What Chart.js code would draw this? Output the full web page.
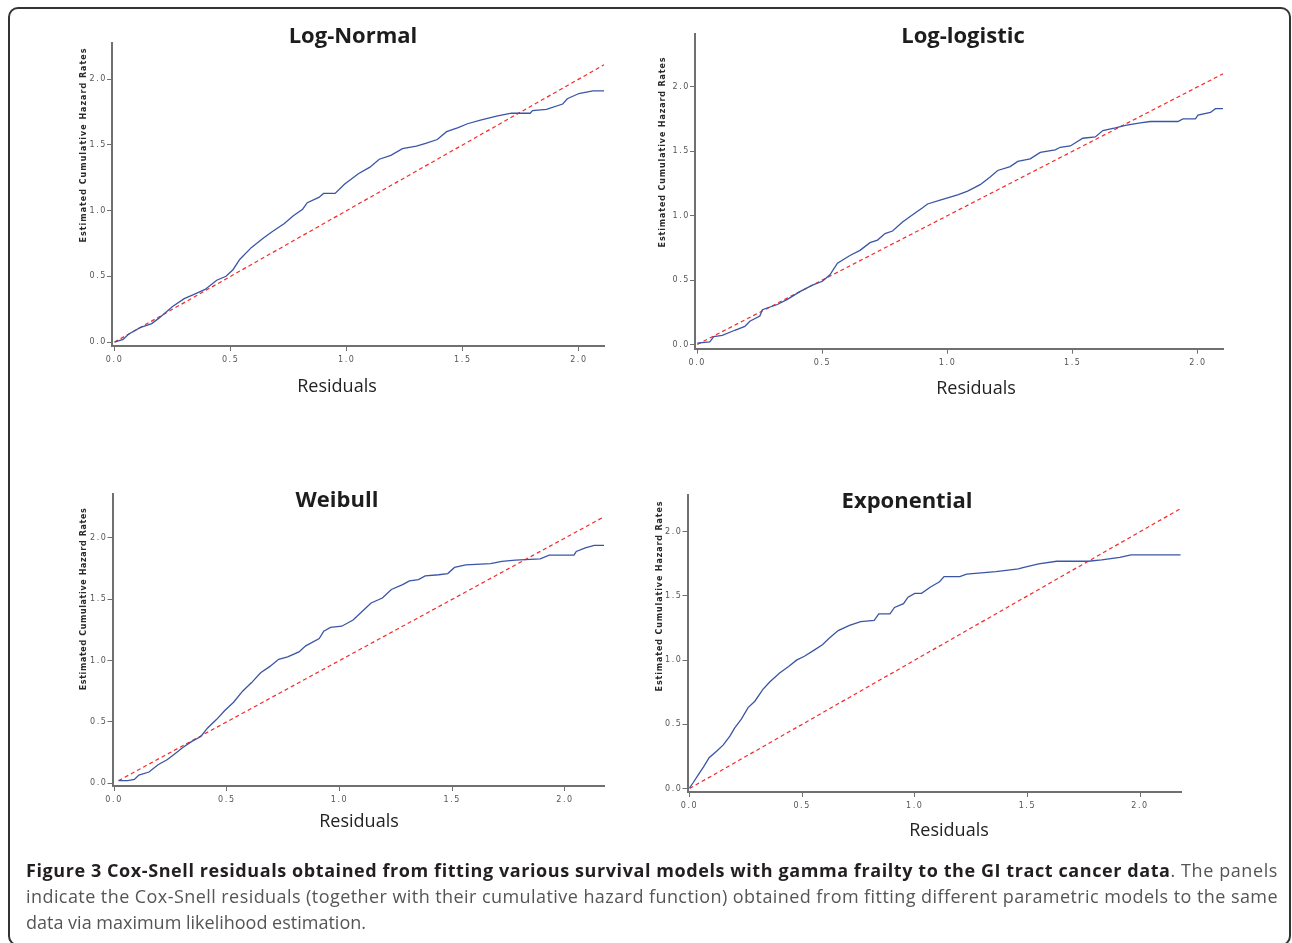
<!DOCTYPE html>
<html>
<head>
<meta charset="utf-8">
<script src="https://cdn.jsdelivr.net/npm/chart.js@4.4.0/dist/chart.umd.min.js"></script>
<style>
  body { margin: 0; background: #fff; width: 1292px; height: 943px; overflow: hidden; position: relative; font-family: "Open Sans", sans-serif; }
  .frame { position: absolute; left: 8px; top: 7px; width: 1283px; height: 939px; border: 2px solid #333; border-radius: 10px; box-sizing: border-box; }
  canvas { position: absolute; left: 0; top: 0; }
  .caption { position: absolute; left: 26px; top: 857px; width: 1252px; font-size: 18px; line-height: 26px; color: #555; }
  .caption div { white-space: nowrap; text-align: left; }
  .caption b { color: #231f20; }
</style>
</head>
<body>
<div class="frame"></div>
<canvas id="lognormal" width="1292" height="943"></canvas>
<canvas id="loglogistic" width="1292" height="943"></canvas>
<canvas id="weibull" width="1292" height="943"></canvas>
<canvas id="exponential" width="1292" height="943"></canvas>
<div class="caption">
  <div class="fit"><span><b>Figure 3 Cox-Snell residuals obtained from fitting various survival models with gamma frailty to the GI tract cancer data</b>. The panels</span></div>
  <div class="fit"><span>indicate the Cox-Snell residuals (together with their cumulative hazard function) obtained from fitting different parametric models to the same</span></div>
  <div><span>data via maximum likelihood estimation.</span></div>
</div>
<script>
// cumulative hazard (blue), per model
const lnX = [0, 0.037, 0.06, 0.11, 0.16, 0.19, 0.25, 0.30, 0.34, 0.39, 0.44, 0.48, 0.51, 0.54, 0.59, 0.64, 0.68, 0.73, 0.77, 0.81, 0.83, 0.88, 0.90, 0.95, 0.99, 1.05, 1.10, 1.14, 1.19, 1.24, 1.30, 1.34, 1.39, 1.43, 1.48, 1.52, 1.58, 1.65, 1.71, 1.79, 1.80, 1.86, 1.93, 1.95, 2.00, 2.06, 2.11]
const lnY = [0, 0.02, 0.06, 0.11, 0.14, 0.18, 0.27, 0.33, 0.36, 0.40, 0.47, 0.50, 0.55, 0.63, 0.72, 0.79, 0.84, 0.90, 0.96, 1.01, 1.06, 1.10, 1.13, 1.13, 1.20, 1.28, 1.33, 1.39, 1.42, 1.47, 1.49, 1.51, 1.54, 1.60, 1.63, 1.66, 1.69, 1.72, 1.74, 1.74, 1.76, 1.77, 1.81, 1.85, 1.89, 1.91, 1.91]

const llX = [0, 0.05, 0.066, 0.10, 0.15, 0.19, 0.21, 0.25, 0.26, 0.32, 0.36, 0.41, 0.46, 0.50, 0.53, 0.56, 0.61, 0.65, 0.69, 0.72, 0.75, 0.78, 0.82, 0.87, 0.90, 0.92, 0.97, 1.04, 1.08, 1.13, 1.17, 1.20, 1.25, 1.28, 1.33, 1.37, 1.43, 1.45, 1.49, 1.54, 1.59, 1.62, 1.67, 1.71, 1.77, 1.81, 1.92, 1.94, 1.99, 2.00, 2.05, 2.07, 2.10]
const llY = [0.01, 0.02, 0.06, 0.07, 0.11, 0.14, 0.18, 0.22, 0.27, 0.31, 0.35, 0.41, 0.46, 0.49, 0.54, 0.63, 0.69, 0.73, 0.79, 0.81, 0.86, 0.88, 0.95, 1.02, 1.06, 1.09, 1.12, 1.16, 1.19, 1.24, 1.30, 1.35, 1.38, 1.42, 1.44, 1.49, 1.51, 1.53, 1.54, 1.60, 1.61, 1.66, 1.68, 1.70, 1.72, 1.73, 1.73, 1.75, 1.75, 1.78, 1.80, 1.83, 1.83]

const wbX = [0.02, 0.06, 0.09, 0.11, 0.155, 0.195, 0.235, 0.27, 0.305, 0.345, 0.385, 0.415, 0.455, 0.49, 0.53, 0.57, 0.61, 0.65, 0.69, 0.73, 0.77, 0.82, 0.85, 0.91, 0.93, 0.96, 1.01, 1.06, 1.10, 1.14, 1.19, 1.23, 1.28, 1.31, 1.35, 1.38, 1.44, 1.48, 1.51, 1.56, 1.67, 1.72, 1.78, 1.89, 1.93, 2.04, 2.05, 2.09, 2.13, 2.18]
const wbY = [0.02, 0.02, 0.03, 0.065, 0.09, 0.15, 0.19, 0.24, 0.29, 0.34, 0.38, 0.45, 0.52, 0.59, 0.66, 0.75, 0.82, 0.90, 0.95, 1.01, 1.03, 1.07, 1.12, 1.18, 1.24, 1.27, 1.28, 1.33, 1.40, 1.47, 1.51, 1.58, 1.62, 1.65, 1.66, 1.69, 1.70, 1.71, 1.76, 1.78, 1.79, 1.81, 1.82, 1.83, 1.86, 1.86, 1.89, 1.92, 1.94, 1.94]

const exX = [0, 0.016, 0.04, 0.063, 0.087, 0.12, 0.15, 0.18, 0.20, 0.23, 0.26, 0.29, 0.325, 0.356, 0.40, 0.44, 0.475, 0.51, 0.555, 0.59, 0.62, 0.66, 0.71, 0.76, 0.82, 0.84, 0.89, 0.91, 0.95, 0.97, 1.00, 1.03, 1.07, 1.11, 1.13, 1.20, 1.23, 1.36, 1.46, 1.48, 1.55, 1.63, 1.77, 1.83, 1.91, 1.96, 2.18]
const exY = [0.005, 0.045, 0.11, 0.17, 0.24, 0.29, 0.34, 0.41, 0.47, 0.54, 0.63, 0.68, 0.77, 0.83, 0.90, 0.95, 1.00, 1.03, 1.08, 1.12, 1.17, 1.23, 1.27, 1.30, 1.31, 1.36, 1.36, 1.41, 1.44, 1.49, 1.52, 1.52, 1.57, 1.61, 1.65, 1.65, 1.67, 1.69, 1.71, 1.72, 1.75, 1.77, 1.77, 1.78, 1.80, 1.82, 1.82]

// 45 degree reference line (start, end) for each panel
const lnRef = [0, 2.108]
const llRef = [0, 2.10]
const wbRef = [0.02, 2.173]
const exRef = [0, 2.182]

const yTitle = 'Estimated Cumulative Hazard Rates'
const xTitle = 'Residuals'

const pts = (xs, ys) => xs.map((x, i) => ({x: x, y: ys[i]}))

// titles and axis labels sit where the figure put them, not where chart.js would
const panelText = {
  id: 'panelText',
  beforeDraw(chart) {
    chart.ctx.letterSpacing = '1.6px'
  },
  afterDraw(chart, args, o) {
    const ctx = chart.ctx
    ctx.save()
    ctx.letterSpacing = '0px'
    ctx.textAlign = 'center'
    ctx.textBaseline = 'middle'
    ctx.fillStyle = '#1d1d1d'
    ctx.font = 'bold 22px "Open Sans"'
    ctx.fillText(o.title, o.titleX, o.titleY)
    ctx.fillStyle = '#222'
    ctx.font = '18px "Open Sans"'
    ctx.fillText(xTitle, o.resX, o.resY)
    ctx.fillStyle = '#2a2a2a'
    ctx.font = 'bold 8px "DejaVu Sans"'
    const w = ctx.measureText(yTitle).width
    ctx.letterSpacing = ((o.yLen - w) / (yTitle.length - 1)).toFixed(2) + 'px'
    ctx.translate(o.yX, o.yY)
    ctx.rotate(-Math.PI / 2)
    ctx.fillText(yTitle, 0, 0)
    ctx.restore()
  }
}

const makePanel = (id, xs, ys, ref, p) => {
  const yW = 30, xH = 30
  const tickFont = {family: 'DejaVu Sans', size: 8}
  new Chart(document.getElementById(id), {
    type: 'scatter',
    data: {
      datasets: [
        {
          data: pts(xs, ys),
          showLine: true,
          borderColor: '#3b55a6',
          borderWidth: 1.3,
          pointRadius: 0,
          tension: 0
        },
        {
          data: pts(ref, ref),
          showLine: true,
          borderColor: '#f52a2a',
          borderWidth: 1.2,
          borderDash: [4, 3],
          pointRadius: 0
        }
      ]
    },
    options: {
      responsive: false,
      animation: false,
      events: [],
      layout: {
        padding: {left: p.area[0] - yW, top: p.area[1], right: 1292 - p.area[2], bottom: 943 - p.area[3] - xH}
      },
      plugins: {
        legend: {display: false},
        tooltip: {enabled: false},
        panelText: p
      },
      scales: {
        x: {
          type: 'linear',
          min: p.x[0],
          max: p.x[1],
          afterFit: (s) => { s.height = xH },
          border: {color: '#707070', width: 2},
          grid: {drawOnChartArea: false, drawTicks: true, tickLength: 5, color: '#707070', lineWidth: 1},
          ticks: {stepSize: 0.5, includeBounds: false, padding: 4, color: '#555', font: tickFont, maxRotation: 0,
                  callback: (v) => v.toFixed(1)}
        },
        y: {
          type: 'linear',
          min: p.y[0],
          max: p.y[1],
          afterFit: (s) => { s.width = yW },
          border: {color: '#707070', width: 2},
          grid: {drawOnChartArea: false, drawTicks: true, tickLength: 5, color: '#707070', lineWidth: 1},
          ticks: {stepSize: 0.5, includeBounds: false, padding: 0, color: '#555', font: tickFont,
                  callback: (v) => v.toFixed(1)}
        }
      }
    },
    plugins: [panelText]
  })
}

makePanel('lognormal', lnX, lnY, lnRef, {
  area: [112, 43, 604, 346], x: [-0.011, 2.108], y: [-0.030, 2.274],
  title: 'Log-Normal', titleX: 353, titleY: 37, resX: 337, resY: 387, yX: 84, yY: 145, yLen: 194
})
makePanel('loglogistic', llX, llY, llRef, {
  area: [695, 34, 1223, 348.7], x: [-0.009, 2.10], y: [-0.033, 2.409],
  title: 'Log-logistic', titleX: 963, titleY: 37, resX: 976, resY: 389, yX: 663, yY: 152, yLen: 190
})
makePanel('weibull', wbX, wbY, wbRef, {
  area: [112.5, 494, 604, 786], x: [-0.007, 2.173], y: [-0.024, 2.359],
  title: 'Weibull', titleX: 337, titleY: 501, resX: 359, resY: 822, yX: 84, yY: 599, yLen: 182
})
makePanel('exponential', exX, exY, exRef, {
  area: [687.5, 495, 1181, 792], x: [-0.009, 2.182], y: [-0.027, 2.286],
  title: 'Exponential', titleX: 907, titleY: 502, resX: 949, resY: 831, yX: 660, yY: 596, yLen: 190
})

// caption lines fill the column edge to edge, like the printed figure
document.querySelectorAll('.caption .fit').forEach((d) => {
  const span = d.querySelector('span')
  const n = span.textContent.length
  const w = span.getBoundingClientRect().width
  span.style.letterSpacing = ((1252 - w) / n).toFixed(3) + 'px'
})
</script>
</body>
</html>
